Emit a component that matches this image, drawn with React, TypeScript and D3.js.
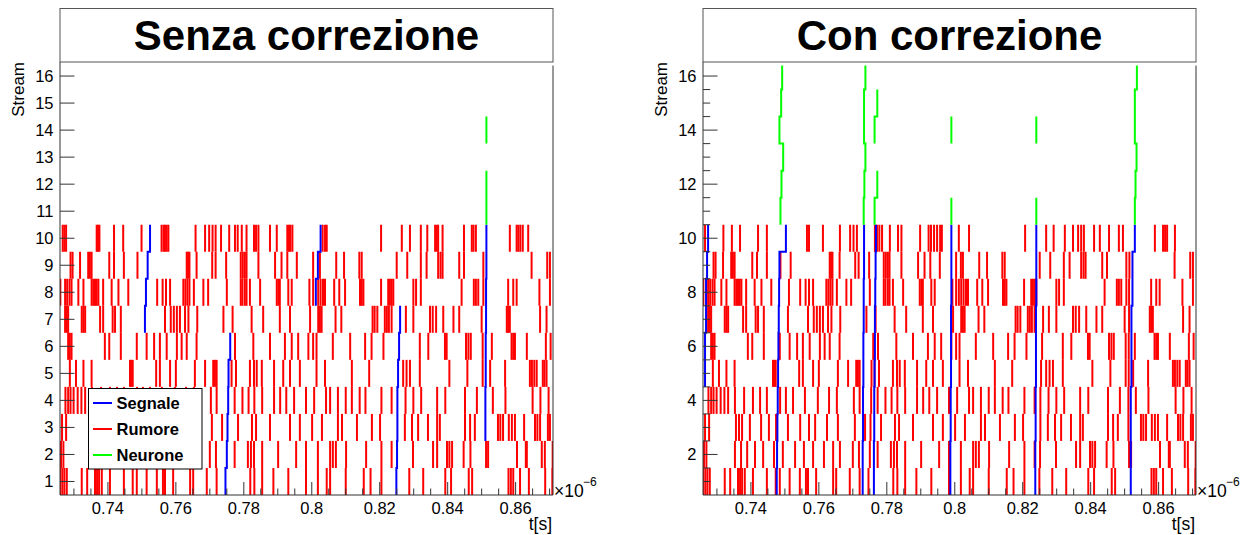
import React from 'react';
import * as d3 from 'd3';

// ---- data: hit times in ns (axis shows t[s] x10^-6) ----
const streams = [1, 2, 3, 4, 5, 6, 7, 8, 9, 10];

const leftS1 = [726.0, 726.6, 727.2, 727.9, 732.3, 733.9, 736.2, 736.8, 737.4, 738.2, 740.6, 744.7, 747.3, 748.5, 751.4, 754.4, 756.2, 756.8, 759.2, 764.2, 765.1, 769.1, 772.0, 781.9, 783.1, 785.4, 788.7, 793.1, 798.3, 801.8, 804.4, 805.4, 810.0, 815.3, 817.3, 820.5, 828.7, 832.8, 839.3, 841.0, 846.2, 847.2, 857.9, 858.6, 859.3, 861.3, 863.9, 868.7, 870.8];
const leftS2 = [726.2, 726.9, 735.3, 737.1, 738.9, 741.2, 743.6, 746.8, 749.4, 753.0, 755.6, 758.3, 761.5, 764.2, 766.2, 770.0, 771.8, 777.3, 781.2, 782.1, 783.0, 785.4, 790.1, 795.4, 798.3, 801.8, 805.4, 806.2, 807.1, 810.1, 816.0, 820.5, 823.5, 829.8, 835.7, 836.9, 839.8, 840.5, 841.3, 844.7, 846.7, 851.3, 851.9, 860.4, 863.0, 863.3, 867.7, 868.6, 870.9];
const leftS3 = [726.5, 727.7, 735.6, 736.5, 737.4, 739.7, 743.0, 745.3, 747.4, 750.9, 754.5, 757.1, 758.9, 762.4, 765.6, 770.6, 773.6, 778.3, 782.4, 783.6, 787.7, 793.6, 796.5, 800.1, 803.0, 807.7, 808.9, 813.3, 817.7, 820.1, 827.4, 829.5, 831.3, 834.2, 836.9, 837.7, 845.1, 846.6, 848.0, 854.8, 855.5, 856.3, 858.0, 858.9, 859.8, 862.5, 865.7, 866.4, 867.2, 869.5, 870.1];
const leftS4 = [727.5, 728.3, 729.0, 729.9, 731.1, 732.2, 733.3, 735.3, 738.0, 740.6, 742.7, 744.7, 748.6, 750.3, 752.4, 755.9, 759.7, 763.0, 765.3, 770.3, 772.0, 777.3, 779.6, 781.4, 783.1, 785.4, 788.9, 790.7, 792.5, 794.8, 798.3, 800.7, 804.2, 805.4, 807.7, 810.0, 811.8, 814.1, 815.8, 820.5, 823.5, 827.6, 829.9, 832.2, 836.9, 839.3, 845.1, 848.6, 853.3, 857.0, 865.0, 867.3, 869.7];
const leftS5 = [728.8, 730.6, 732.8, 735.2, 746.5, 746.9, 747.3, 754.2, 755.3, 758.3, 760.0, 765.6, 768.6, 771.0, 771.5, 772.0, 776.4, 777.7, 781.8, 783.0, 783.8, 785.3, 788.9, 791.6, 793.6, 796.5, 801.4, 803.9, 811.8, 816.9, 826.9, 827.9, 828.9, 831.8, 840.5, 845.8, 850.3, 852.5, 856.9, 864.2, 864.8, 865.5, 866.2, 868.0, 868.5, 869.1];
const leftS6 = [728.3, 728.8, 729.3, 739.1, 740.4, 743.8, 748.5, 751.4, 753.6, 755.3, 757.3, 760.3, 761.7, 763.2, 766.1, 777.4, 782.8, 787.7, 792.1, 794.1, 796.0, 799.0, 800.4, 801.4, 806.2, 811.3, 815.7, 817.6, 821.1, 831.8, 834.3, 839.2, 839.7, 845.4, 846.1, 846.8, 850.3, 853.0, 858.8, 859.3, 859.8, 863.3, 868.9, 870.3];
const leftS7 = [727.4, 727.9, 728.3, 732.3, 732.8, 733.3, 737.7, 738.6, 741.4, 742.1, 743.8, 756.8, 758.5, 759.4, 760.3, 761.2, 762.7, 763.7, 766.3, 774.0, 776.7, 782.3, 785.7, 790.6, 793.6, 799.5, 801.9, 802.4, 802.9, 807.0, 808.7, 817.9, 818.5, 819.3, 821.5, 822.1, 822.7, 823.5, 827.7, 829.9, 834.8, 835.6, 836.6, 838.7, 841.7, 843.4, 850.0, 857.4, 857.8, 858.3, 867.2, 869.1];
const leftS8 = [726.0, 727.4, 728.0, 728.7, 729.3, 731.3, 732.8, 735.2, 735.7, 736.2, 736.7, 737.2, 738.6, 741.1, 743.1, 746.0, 754.5, 756.1, 757.1, 758.3, 762.2, 762.8, 763.4, 764.0, 765.3, 768.1, 769.5, 775.0, 779.1, 779.6, 780.3, 780.8, 781.8, 784.8, 789.7, 790.2, 790.6, 793.1, 794.1, 799.3, 800.4, 801.9, 802.6, 803.3, 803.9, 806.6, 808.1, 809.8, 814.2, 814.7, 815.2, 820.4, 822.5, 823.0, 823.5, 824.0, 829.9, 830.7, 832.1, 844.1, 847.7, 848.3, 849.0, 850.5, 857.8, 859.3, 860.3, 867.0, 870.1];
const leftS9 = [729.0, 729.6, 731.8, 734.2, 734.7, 735.2, 740.4, 741.8, 744.7, 748.7, 763.2, 763.6, 764.0, 766.1, 770.7, 771.7, 774.8, 779.1, 779.7, 780.3, 780.8, 784.3, 789.2, 791.1, 792.8, 795.6, 800.4, 802.4, 807.2, 809.5, 814.0, 814.7, 825.0, 828.1, 832.1, 833.8, 837.2, 837.9, 838.5, 843.4, 844.8, 850.5, 864.7, 869.3, 870.1];
const leftS10 = [726.7, 727.2, 727.7, 736.7, 737.1, 737.5, 741.8, 744.5, 749.9, 755.8, 756.4, 756.8, 757.3, 757.8, 765.8, 768.6, 769.8, 770.8, 771.7, 773.3, 775.7, 777.4, 778.2, 779.4, 780.8, 783.0, 783.6, 784.3, 787.7, 789.7, 792.8, 793.3, 793.7, 794.3, 803.2, 803.9, 804.4, 820.4, 826.5, 828.9, 832.1, 834.0, 836.3, 836.8, 837.2, 838.5, 844.8, 847.1, 847.6, 848.3, 858.3, 860.3, 860.8, 861.4, 862.1, 863.7];

const rightS1 = [726.0, 726.6, 727.2, 727.9, 732.3, 733.9, 736.2, 736.8, 737.4, 738.2, 740.6, 744.7, 747.3, 748.5, 751.4, 754.4, 756.2, 756.8, 759.2, 764.2, 765.1, 769.1, 772.0, 774.6, 781.9, 783.1, 785.4, 788.7, 793.1, 798.3, 801.8, 804.4, 805.4, 810.0, 815.3, 817.3, 820.5, 824.9, 828.7, 832.8, 839.3, 841.0, 846.2, 847.2, 857.9, 858.6, 859.3, 861.3, 863.9, 868.7, 870.8];
const rightS2 = [726.2, 726.9, 735.3, 737.1, 738.9, 741.2, 743.6, 746.8, 749.4, 753.0, 755.6, 758.3, 761.5, 764.2, 766.2, 770.0, 771.8, 775.0, 777.3, 781.2, 782.1, 783.0, 785.4, 790.1, 795.4, 798.3, 801.8, 805.4, 806.2, 807.1, 810.1, 816.0, 820.5, 823.5, 825.1, 829.8, 835.7, 836.9, 839.8, 840.5, 841.3, 844.7, 846.7, 851.3, 851.9, 860.4, 863.0, 863.3, 867.7, 868.6, 870.9];
const rightS3 = [726.5, 727.7, 735.6, 736.5, 737.4, 739.7, 743.0, 745.3, 747.4, 750.9, 754.5, 757.1, 758.9, 762.4, 765.6, 770.6, 773.6, 775.2, 778.3, 782.4, 783.6, 787.7, 793.6, 796.5, 800.1, 803.0, 807.7, 808.9, 813.3, 817.7, 820.1, 825.2, 827.4, 829.5, 831.3, 834.2, 836.9, 837.7, 845.1, 846.6, 848.0, 851.1, 854.8, 855.5, 856.3, 858.0, 858.9, 859.8, 862.5, 865.7, 866.4, 867.2, 869.5, 870.1];
const rightS4 = [727.5, 728.3, 729.0, 729.9, 731.1, 732.2, 733.3, 735.3, 738.0, 740.6, 742.7, 744.7, 748.6, 750.3, 752.4, 755.9, 759.7, 763.0, 765.3, 770.3, 772.0, 775.4, 777.3, 779.6, 781.4, 783.1, 785.4, 788.9, 790.7, 792.5, 794.8, 798.3, 800.7, 804.2, 805.4, 807.7, 810.0, 811.8, 814.1, 815.8, 820.5, 823.5, 825.2, 827.6, 829.9, 832.2, 836.9, 839.3, 845.1, 848.6, 851.1, 853.3, 857.0, 865.0, 867.3, 869.7];
const rightS5 = [728.8, 730.6, 732.8, 735.2, 746.5, 746.9, 747.3, 754.2, 755.3, 758.3, 760.0, 765.6, 768.6, 771.0, 771.5, 772.0, 775.5, 776.4, 777.7, 781.8, 783.0, 783.8, 785.3, 788.9, 791.6, 793.6, 796.5, 801.4, 803.9, 811.8, 816.9, 825.4, 826.9, 827.9, 828.9, 831.8, 840.5, 845.8, 850.3, 851.2, 852.5, 856.9, 864.2, 864.8, 865.5, 866.2, 868.0, 868.5, 869.1];
const rightS6 = [728.3, 728.8, 729.3, 739.1, 740.4, 743.8, 748.5, 751.4, 753.6, 755.3, 757.3, 760.3, 761.7, 763.2, 766.1, 776.0, 777.4, 782.8, 787.7, 792.1, 794.1, 796.0, 799.0, 800.4, 801.4, 806.2, 811.3, 815.7, 817.6, 821.1, 825.7, 831.8, 834.3, 839.2, 839.7, 845.4, 846.1, 846.8, 850.3, 851.2, 853.0, 858.8, 859.3, 859.8, 863.3, 868.9, 870.3];
const rightS7 = [727.4, 727.9, 728.3, 732.3, 732.8, 733.3, 737.7, 738.6, 741.4, 742.1, 743.8, 750.9, 756.8, 758.5, 759.4, 760.3, 761.2, 762.7, 763.7, 766.3, 774.0, 776.7, 782.3, 785.7, 790.6, 793.6, 799.5, 801.9, 802.4, 802.9, 807.0, 808.7, 817.9, 818.5, 819.3, 821.5, 822.1, 822.7, 823.5, 826.0, 827.7, 829.9, 834.8, 835.6, 836.6, 838.7, 841.7, 843.4, 850.0, 851.3, 857.4, 857.8, 858.3, 867.2, 869.1];
const rightS8 = [726.0, 727.4, 728.0, 728.7, 729.3, 731.3, 732.8, 735.2, 735.7, 736.2, 736.7, 737.2, 738.6, 741.1, 743.1, 746.0, 751.2, 754.5, 756.1, 757.1, 758.3, 762.2, 762.8, 763.4, 764.0, 765.3, 768.1, 769.5, 775.0, 779.1, 779.6, 780.3, 780.8, 781.8, 784.8, 789.7, 790.2, 790.6, 793.1, 794.1, 799.3, 800.4, 801.2, 801.9, 802.6, 803.3, 803.9, 806.6, 808.1, 809.8, 814.2, 814.7, 815.2, 820.4, 822.5, 823.0, 823.5, 824.0, 829.9, 830.7, 832.1, 844.1, 847.7, 848.3, 849.0, 850.5, 851.3, 857.8, 859.3, 860.3, 867.0, 870.1];
const rightS9 = [729.0, 729.6, 731.8, 734.2, 734.7, 735.2, 740.4, 741.8, 744.7, 748.7, 751.7, 763.2, 763.6, 764.0, 766.1, 770.7, 771.7, 774.8, 779.1, 779.7, 780.3, 780.8, 784.3, 789.2, 791.1, 792.8, 795.6, 800.4, 801.8, 802.4, 807.2, 809.5, 814.0, 814.7, 825.0, 828.1, 832.1, 833.8, 837.2, 837.9, 838.5, 843.4, 844.8, 850.5, 851.4, 864.7, 869.3, 870.1];
const rightS10 = [726.5, 731.9, 734.4, 736.8, 742.1, 744.7, 756.5, 757.1, 761.2, 766.2, 769.2, 770.2, 771.2, 776.5, 777.1, 777.8, 778.6, 780.9, 783.3, 784.3, 789.8, 792.3, 793.0, 793.9, 794.8, 795.7, 796.2, 801.2, 804.2, 820.7, 826.9, 829.1, 832.4, 834.8, 836.3, 837.2, 838.0, 841.0, 842.7, 845.4, 848.3, 849.5, 858.9, 861.3, 861.9, 862.5, 864.8];

// signals [stream, time]
const leftSigA: [number, number][] = [[7, 750.9], [8, 751.2], [9, 751.7], [10, 752.4]];
const leftSigB: [number, number][] = [[1, 774.6], [2, 775.0], [3, 775.2], [4, 775.4], [5, 775.5], [6, 776.0]];
const leftSigC: [number, number][] = [[8, 801.2], [9, 801.8], [10, 802.6]];
const leftSigD: [number, number][] = [[1, 824.9], [2, 825.1], [3, 825.2], [4, 825.2], [5, 825.4], [6, 825.7], [7, 826.0]];
const leftSigE: [number, number][] = [[3, 851.1], [4, 851.1], [5, 851.2], [6, 851.2], [7, 851.3], [8, 851.3], [9, 851.4], [10, 851.4]];
const leftNeuron: [number, number][] = [[11, 851.4], [12, 851.4], [14, 851.4]];

const rightSig0: [number, number][] = [[5, 726.5], [6, 726.5], [7, 726.8], [8, 726.8], [9, 727.1], [10, 727.4]];
const rightSig1: [number, number][] = [[1, 747.6], [2, 747.7], [3, 747.8], [4, 747.9], [5, 748.0], [6, 748.1], [7, 748.2], [8, 748.3], [9, 748.4], [10, 750.3]];
const rightSig2: [number, number][] = [[1, 772.9], [2, 772.9], [3, 773.0], [4, 773.0], [5, 773.1], [6, 773.1], [7, 773.2], [8, 773.2], [9, 773.3], [10, 773.3]];
const rightSig3: [number, number][] = [[1, 776.2], [2, 776.2], [3, 776.3], [4, 776.3], [5, 776.4], [6, 776.5], [7, 776.5], [8, 776.6], [9, 776.7], [10, 776.8]];
const rightSig4: [number, number][] = [[1, 798.7], [2, 798.7], [3, 798.8], [4, 798.8], [5, 798.9], [6, 798.9], [7, 798.9], [8, 799.0], [9, 799.0], [10, 799.0]];
const rightSig5: [number, number][] = [[1, 823.7], [2, 823.7], [3, 823.8], [4, 823.8], [5, 823.9], [6, 823.9], [7, 823.9], [8, 824.0], [9, 824.0], [10, 824.0]];
const rightSig6: [number, number][] = [[1, 851.8], [2, 851.8], [3, 851.8], [4, 851.8], [5, 852.0], [6, 852.0], [7, 852.0], [8, 852.3], [9, 852.3], [10, 853.0]];
const rightNeuronA: [number, number][] = [[11, 748.7], [12, 749.0], [13, 749.5], [14, 748.4], [15, 748.9], [16, 749.2]];
const rightNeuronB: [number, number][] = [[11, 773.2], [12, 773.4], [13, 773.7], [14, 773.3], [15, 773.3], [16, 773.7]];
const rightNeuronC: [number, number][] = [[11, 776.4], [12, 777.2], [14, 776.4], [15, 777.2]];
const rightNeuronD: [number, number][] = [[11, 799.0], [14, 799.0]];
const rightNeuronE: [number, number][] = [[11, 824.0], [14, 824.0]];
const rightNeuronF: [number, number][] = [[11, 853.0], [12, 853.2], [13, 853.5], [14, 853.0], [15, 853.0], [16, 853.6]];

const xMajorTicks = [740, 760, 780, 800, 820, 840, 860];
const legendLabels = ['Segnale', 'Rumore', 'Neurone'];
const legendColors = ['#0000ff', '#ff0000', '#00ff00'];
const titles = ['Senza correzione', 'Con correzione'];

const T_MIN = 725.9;
const T_MAX = 871.0;
const FONT = "'Liberation Sans', Arial, Helvetica, sans-serif";
const AXIS = '#333';

function stepPath(pts: [number, number][], x: (v: number) => number, y: (v: number) => number) {
  const p = d3.path();
  let prev: [number, number] | null = null;
  for (const [s, t] of pts) {
    if (prev && prev[0] === s - 1) {
      p.lineTo(x(t), y(s - 0.5));
    } else {
      p.moveTo(x(t), y(s - 0.5));
    }
    p.lineTo(x(t), y(s + 0.5));
    prev = [s, t];
  }
  return p.toString();
}

type PanelProps = {
  id: string;
  x0: number;
  x1: number;
  title: string;
  noise: number[][];
  signals: [number, number][][];
  neurons: [number, number][][];
  yMajor: number[];
  yMinor: number[];
  legend: boolean;
};

function Panel({ id, x0, x1, title, noise, signals, neurons, yMajor, yMinor, legend }: PanelProps) {
  const x = d3.scaleLinear().domain([T_MIN, T_MAX]).range([x0, x1]);
  const y = d3.scaleLinear().domain([0.5, 16.39]).range([495, 65.5]);
  const yBot = y(0.5);
  const yTop = y(16.39);
  const minorX = d3.range(730, 871, 5).filter((v) => v % 20 !== 0);
  const majLen = 14.5;
  const minLen = 7.2;
  return (
    <g>
      <defs>
        <clipPath id={`clip-${id}`}>
          <rect x={x0} y={yTop} width={x1 - x0} height={yBot - yTop} />
        </clipPath>
      </defs>
      <g clipPath={`url(#clip-${id})`}>
        {noise.map((row, i) =>
          row.map((t, j) => (
            <line key={`n${i}-${j}`} x1={x(t)} x2={x(t)} y1={y(streams[i] - 0.5)} y2={y(streams[i] + 0.5)} stroke="#ff0000" strokeWidth={2} />
          ))
        )}
        {signals.map((sg, i) => (
          <path key={`s${i}`} d={stepPath(sg, x, y)} fill="none" stroke="#0000ff" strokeWidth={2} />
        ))}
        {neurons.map((sg, i) => (
          <path key={`g${i}`} d={stepPath(sg, x, y)} fill="none" stroke="#00ff00" strokeWidth={2} />
        ))}
      </g>
      {/* frame */}
      <line x1={x0} x2={x0} y1={62} y2={yBot} stroke={AXIS} strokeWidth={1} />
      <line x1={x1} x2={x1} y1={yTop} y2={yBot} stroke={AXIS} strokeWidth={1} />
      <line x1={x0} x2={x1} y1={yBot} y2={yBot} stroke={AXIS} strokeWidth={1} />
      {/* y ticks */}
      {yMajor.map((v) => (
        <g key={`ym${v}`}>
          <line x1={x0} x2={x0 + majLen} y1={y(v)} y2={y(v)} stroke={AXIS} strokeWidth={1} />
          <text x={x0 - 6.5} y={y(v)} dy="0.36em" textAnchor="end" fontSize={16.5} fontFamily={FONT} fill="#000">
            {v}
          </text>
        </g>
      ))}
      {yMinor.map((v) => (
        <line key={`yn${v}`} x1={x0} x2={x0 + minLen} y1={y(v)} y2={y(v)} stroke={AXIS} strokeWidth={1} />
      ))}
      {/* x ticks */}
      {xMajorTicks.map((v) => (
        <g key={`xm${v}`}>
          <line x1={x(v)} x2={x(v)} y1={yBot} y2={yBot - 13} stroke={AXIS} strokeWidth={1} />
          <text x={x(v)} y={513.5} textAnchor="middle" fontSize={16.5} fontFamily={FONT} fill="#000">
            {String(+(v / 1000).toFixed(2))}
          </text>
        </g>
      ))}
      {minorX.map((v) => (
        <line key={`xn${v}`} x1={x(v)} x2={x(v)} y1={yBot} y2={yBot - 6.5} stroke={AXIS} strokeWidth={1} />
      ))}
      <text x={x1 + 1} y={497} fontSize={17.5} fontFamily={FONT} fill="#000">
        ×10
      </text>
      <text x={x1 + 30} y={486} fontSize={12} fontFamily={FONT} fill="#000">
        −6
      </text>
      <text x={x1 - 1} y={530} textAnchor="end" fontSize={17.5} fontFamily={FONT} fill="#000">
        t[s]
      </text>
      <text transform={`translate(${x0 - 36},62) rotate(-90)`} textAnchor="end" fontSize={17} fontFamily={FONT} fill="#000">
        Stream
      </text>
      {/* title */}
      <rect x={x0} y={8.5} width={x1 - x0} height={53.5} fill="#fff" stroke="#555" strokeWidth={1} />
      <text x={(x0 + x1) / 2} y={49.5} textAnchor="middle" fontSize={42} fontWeight="bold" fontFamily={FONT} fill="#000">
        {title}
      </text>
      {legend && (
        <g>
          <rect x={88.5} y={388.5} width={113.5} height={80.5} fill="#fff" stroke="#000" strokeWidth={1} />
          {legendLabels.map((lab, i) => (
            <g key={lab}>
              <line x1={93} x2={112} y1={403 + i * 26} y2={403 + i * 26} stroke={legendColors[i]} strokeWidth={2} />
              <text x={116.5} y={403 + i * 26} dy="0.36em" fontSize={16.5} fontWeight="bold" fontFamily={FONT} fill="#000">
                {lab}
              </text>
            </g>
          ))}
        </g>
      )}
    </g>
  );
}

export default function App() {
  const leftNoise = [leftS1, leftS2, leftS3, leftS4, leftS5, leftS6, leftS7, leftS8, leftS9, leftS10];
  const rightNoise = [rightS1, rightS2, rightS3, rightS4, rightS5, rightS6, rightS7, rightS8, rightS9, rightS10];
  return (
    <div style={{ position: 'absolute', left: 0, top: 0 }}>
      <svg width={1245} height={535} style={{ display: 'block', background: '#fff' }}>
        <Panel
          id="l"
          x0={60}
          x1={553}
          title={titles[0]}
          noise={leftNoise}
          signals={[leftSigA, leftSigB, leftSigC, leftSigD, leftSigE]}
          neurons={[leftNeuron]}
          yMajor={d3.range(1, 17)}
          yMinor={[]}
          legend={true}
        />
        <Panel
          id="r"
          x0={703}
          x1={1196}
          title={titles[1]}
          noise={rightNoise}
          signals={[rightSig0, rightSig1, rightSig2, rightSig3, rightSig4, rightSig5, rightSig6]}
          neurons={[rightNeuronA, rightNeuronB, rightNeuronC, rightNeuronD, rightNeuronE, rightNeuronF]}
          yMajor={d3.range(2, 17, 2)}
          yMinor={d3.range(1, 16.4, 0.5).filter((v) => v % 2 !== 0)}
          legend={false}
        />
      </svg>
    </div>
  );
}
